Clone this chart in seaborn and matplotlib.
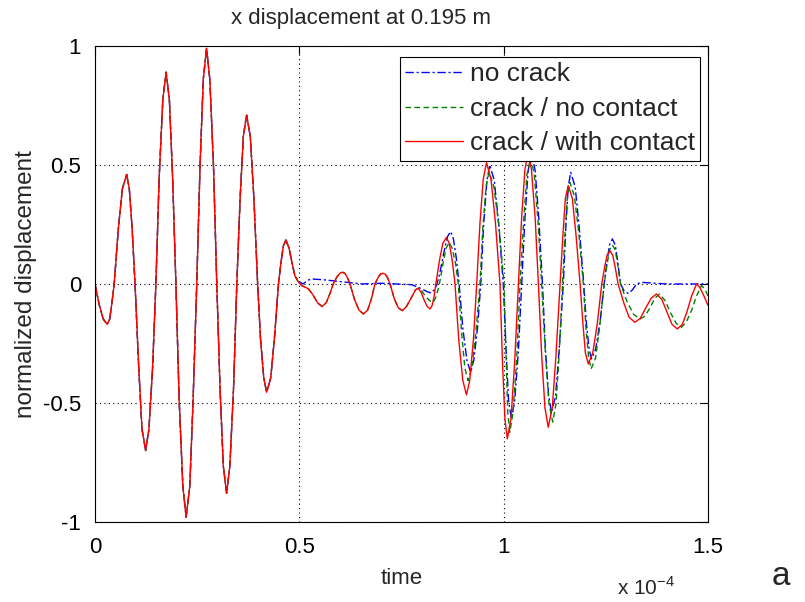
import matplotlib
matplotlib.use("Agg")
import matplotlib.pyplot as plt
import seaborn as sns
import pandas as pd

# time axis in units of 1e-4 s
# first part: all three signals lie on top of each other
t_common = [0.000, 0.010, 0.020, 0.030, 0.036, 0.041, 0.047, 0.057, 0.067, 0.0775,
            0.084, 0.091, 0.098, 0.107, 0.115, 0.124, 0.132, 0.141, 0.149, 0.157,
            0.166, 0.174, 0.182, 0.190, 0.198, 0.206, 0.215, 0.223, 0.232, 0.240,
            0.249, 0.257, 0.265, 0.273, 0.281, 0.290, 0.298, 0.306, 0.314, 0.322,
            0.330, 0.339, 0.347, 0.355, 0.363, 0.371, 0.380, 0.389, 0.398, 0.405,
            0.413, 0.420, 0.430, 0.439, 0.449, 0.455, 0.461, 0.467, 0.475, 0.482,
            0.489]
y_common = [0.0, -0.085, -0.147, -0.17, -0.147, -0.085, 0.0, 0.23, 0.40, 0.46,
            0.40, 0.23, 0.0, -0.35, -0.61, -0.70, -0.61, -0.35, 0.0, 0.445,
            0.775, 0.89, 0.775, 0.445, 0.0, -0.49, -0.85, -0.98, -0.85, -0.49,
            0.0, 0.495, 0.86, 0.99, 0.86, 0.495, 0.0, -0.44, -0.765, -0.88,
            -0.765, -0.44, 0.0, 0.355, 0.62, 0.71, 0.62, 0.355, 0.0, -0.23,
            -0.395, -0.455, -0.395, -0.23, 0.0, 0.09, 0.16, 0.185, 0.15, 0.09,
            0.035]

# both cracked cases follow the same small waves up to ~0.79e-4
t_crack = [0.497, 0.506, 0.522, 0.533, 0.545, 0.556, 0.566, 0.575, 0.583, 0.592,
           0.600, 0.606, 0.612, 0.618, 0.624, 0.635, 0.646, 0.657, 0.667, 0.676,
           0.685, 0.693, 0.699, 0.705, 0.711, 0.717, 0.722, 0.732, 0.742, 0.752,
           0.762, 0.775, 0.784, 0.791]
y_crack = [0.01, -0.007, -0.02, -0.045, -0.08, -0.095, -0.078, -0.04, 0.0, 0.03,
           0.046, 0.049, 0.044, 0.025, 0.0, -0.065, -0.11, -0.126, -0.11, -0.065,
           0.0, 0.028, 0.042, 0.045, 0.04, 0.022, 0.0, -0.06, -0.10, -0.112,
           -0.095, -0.055, -0.025, -0.018]

# no crack
t_nocrack = [0.499, 0.509, 0.520, 0.530, 0.563, 0.612, 0.653, 0.700, 0.735, 0.775,
             0.799, 0.812, 0.822, 0.830, 0.836, 0.843, 0.850, 0.857, 0.863, 0.870,
             0.877, 0.884, 0.891, 0.900, 0.910, 0.919, 0.927, 0.936, 0.944, 0.951,
             0.959, 0.966, 0.977, 0.988, 0.999, 1.006, 1.012, 1.019, 1.027, 1.036,
             1.044, 1.052, 1.060, 1.068, 1.077, 1.086, 1.095, 1.102, 1.110, 1.117,
             1.127, 1.136, 1.146, 1.152, 1.158, 1.164, 1.175, 1.185, 1.196, 1.202,
             1.209, 1.215, 1.225, 1.236, 1.246, 1.253, 1.259, 1.266, 1.273, 1.279,
             1.286, 1.295, 1.305, 1.315, 1.325, 1.338, 1.360, 1.400, 1.450, 1.500]
y_nocrack = [0.01, 0.0, 0.015, 0.021, 0.017, 0.008, 0.0, 0.003, 0.0, -0.003,
             -0.02, -0.032, -0.038, -0.025, -0.005, 0.04, 0.10, 0.16, 0.20, 0.22,
             0.19, 0.11, 0.0, -0.185, -0.32, -0.371, -0.32, -0.185, 0.0, 0.25,
             0.435, 0.50, 0.435, 0.25, 0.0, -0.283, -0.49, -0.567, -0.49, -0.283,
             0.0, 0.275, 0.478, 0.55, 0.478, 0.275, 0.0, -0.27, -0.47, -0.54,
             -0.47, -0.27, 0.0, 0.235, 0.408, 0.469, 0.408, 0.235, 0.0, -0.158,
             -0.274, -0.315, -0.274, -0.158, 0.0, 0.095, 0.164, 0.189, 0.164, 0.095,
             0.0, -0.03, -0.04, -0.025, 0.0, 0.007, 0.004, 0.0, 0.0, 0.0]

# crack / no contact, after the shared part
t_nocontact = [0.800, 0.810, 0.820, 0.828, 0.834, 0.840, 0.845, 0.852, 0.859, 0.867,
               0.874, 0.882, 0.889, 0.897, 0.905, 0.913, 0.922, 0.932, 0.942, 0.949,
               0.957, 0.964, 0.976, 0.989, 1.001, 1.006, 1.010, 1.015, 1.023, 1.032,
               1.040, 1.049, 1.057, 1.066, 1.075, 1.084, 1.093, 1.102, 1.111, 1.120,
               1.128, 1.136, 1.144, 1.150, 1.156, 1.162, 1.173, 1.184, 1.195, 1.201,
               1.208, 1.214, 1.225, 1.235, 1.246, 1.253, 1.259, 1.266, 1.273, 1.279,
               1.286, 1.302, 1.318, 1.334, 1.346, 1.358, 1.370, 1.382, 1.395, 1.408,
               1.422, 1.435, 1.447, 1.460, 1.472, 1.484, 1.492, 1.500]
y_nocontact = [-0.03, -0.055, -0.072, -0.077, -0.055, -0.02, 0.02, 0.09, 0.15, 0.175,
               0.15, 0.088, 0.0, -0.203, -0.353, -0.406, -0.353, -0.203, 0.0, 0.235,
               0.41, 0.47, 0.41, 0.235, 0.0, -0.31, -0.54, -0.623, -0.54, -0.31,
               0.0, 0.265, 0.46, 0.53, 0.46, 0.265, 0.0, -0.29, -0.505, -0.58,
               -0.505, -0.29, 0.0, 0.213, 0.37, 0.427, 0.37, 0.213, 0.0, -0.178,
               -0.31, -0.357, -0.31, -0.178, 0.0, 0.082, 0.143, 0.164, 0.143, 0.082,
               0.0, -0.075, -0.128, -0.147, -0.135, -0.10, -0.06, -0.042, -0.07, -0.12,
               -0.165, -0.182, -0.16, -0.11, -0.05, -0.007, -0.02, -0.05]

# crack / with contact, after the shared part
t_contact = [0.798, 0.806, 0.813, 0.820, 0.825, 0.830, 0.834, 0.843, 0.851, 0.860,
             0.867, 0.874, 0.881, 0.890, 0.900, 0.909, 0.917, 0.926, 0.934, 0.942,
             0.950, 0.958, 0.969, 0.980, 0.991, 0.997, 1.003, 1.009, 1.018, 1.027,
             1.036, 1.044, 1.052, 1.060, 1.068, 1.077, 1.085, 1.093, 1.101, 1.109,
             1.119, 1.128, 1.138, 1.145, 1.151, 1.158, 1.168, 1.177, 1.187, 1.194,
             1.200, 1.207, 1.218, 1.229, 1.240, 1.247, 1.253, 1.260, 1.267, 1.273,
             1.280, 1.294, 1.307, 1.321, 1.334, 1.348, 1.361, 1.374, 1.387, 1.400,
             1.412, 1.425, 1.437, 1.448, 1.460, 1.472, 1.480, 1.490, 1.500]
y_contact = [-0.035, -0.07, -0.095, -0.105, -0.09, -0.05, 0.0, 0.10, 0.17, 0.196,
             0.17, 0.10, 0.0, -0.233, -0.405, -0.466, -0.405, -0.233, 0.0, 0.255,
             0.44, 0.51, 0.44, 0.255, 0.0, -0.325, -0.565, -0.651, -0.565, -0.325,
             0.0, 0.28, 0.48, 0.555, 0.48, 0.28, 0.0, -0.30, -0.52, -0.602,
             -0.52, -0.30, 0.0, 0.207, 0.36, 0.413, 0.36, 0.207, 0.0, -0.168,
             -0.29, -0.336, -0.29, -0.168, 0.0, 0.07, 0.12, 0.14, 0.12, 0.07,
             0.0, -0.08, -0.14, -0.161, -0.145, -0.10, -0.06, -0.042, -0.065, -0.12,
             -0.17, -0.189, -0.17, -0.12, -0.05, 0.0, -0.015, -0.05, -0.09]

labels = ["no crack", "crack / no contact", "crack / with contact"]

df = pd.concat([
    pd.DataFrame({"time": t_common + t_nocrack, "disp": y_common + y_nocrack,
                  "case": labels[0]}),
    pd.DataFrame({"time": t_common + t_crack + t_nocontact,
                  "disp": y_common + y_crack + y_nocontact, "case": labels[1]}),
    pd.DataFrame({"time": t_common + t_crack + t_contact,
                  "disp": y_common + y_crack + y_contact, "case": labels[2]}),
])

sns.set_theme(style="white")
plt.rcParams['font.family'] = ['Liberation Sans', 'DejaVu Sans']
plt.rcParams['mathtext.fontset'] = 'custom'
plt.rcParams['mathtext.rm'] = 'Liberation Sans'

fig = plt.figure(figsize=(8.05, 6.02), dpi=100)
ax = fig.add_axes([0.118, 0.133, 0.7615, 0.7906])

styles = {labels[0]: ("#0000ff", (0, (6, 2, 1.5, 2))),
          labels[1]: ("#008000", (0, (4, 2.5))),
          labels[2]: ("#ff0000", "-")}
for lab in labels:
    col, ls = styles[lab]
    sns.lineplot(data=df[df["case"] == lab], x="time", y="disp", sort=False,
                 estimator=None, color=col, lw=1.0, ax=ax, label=lab,
                 solid_joinstyle="round", dash_joinstyle="round")
    ax.lines[-1].set_linestyle(ls)

ax.set_xlim(0, 1.5)
ax.set_ylim(-1, 1)
ax.set_xticks([0, 0.5, 1, 1.5])
ax.set_xticklabels(["0", "0.5", "1", "1.5"])
ax.set_yticks([-1, -0.5, 0, 0.5, 1])
ax.set_yticklabels(["-1", "-0.5", "0", "0.5", "1"])
ax.grid(True, linestyle=(0, (1, 3)), color="black", lw=0.8)
ax.tick_params(direction="in", top=True, right=True, length=6, width=0.8,
               labelsize=16, colors="black")
ax.tick_params(axis="x", pad=11)
ax.tick_params(axis="y", pad=10)
for s in ax.spines.values():
    s.set_color("black")
    s.set_linewidth(0.8)

ax.set_title("x displacement at 0.195 m", fontsize=16, pad=16, x=0.434)
ax.set_xlabel("time", fontsize=16, labelpad=7)
ax.set_ylabel("normalized displacement", fontsize=17.5, labelpad=4)
fig.text(0.767, 0.012, r"x 10$^{-4}$", fontsize=15)
fig.text(0.958, 0.028, "a", fontsize=24)

leg = ax.legend(loc="upper right", bbox_to_anchor=(0.987, 0.977), fontsize=19,
                frameon=True, fancybox=False, edgecolor="black", framealpha=1,
                handlelength=2.2, handletextpad=0.25, labelspacing=0.4,
                borderpad=0.2, borderaxespad=0)
leg.get_frame().set_linewidth(0.8)

fig.savefig("out.png", dpi=100)
